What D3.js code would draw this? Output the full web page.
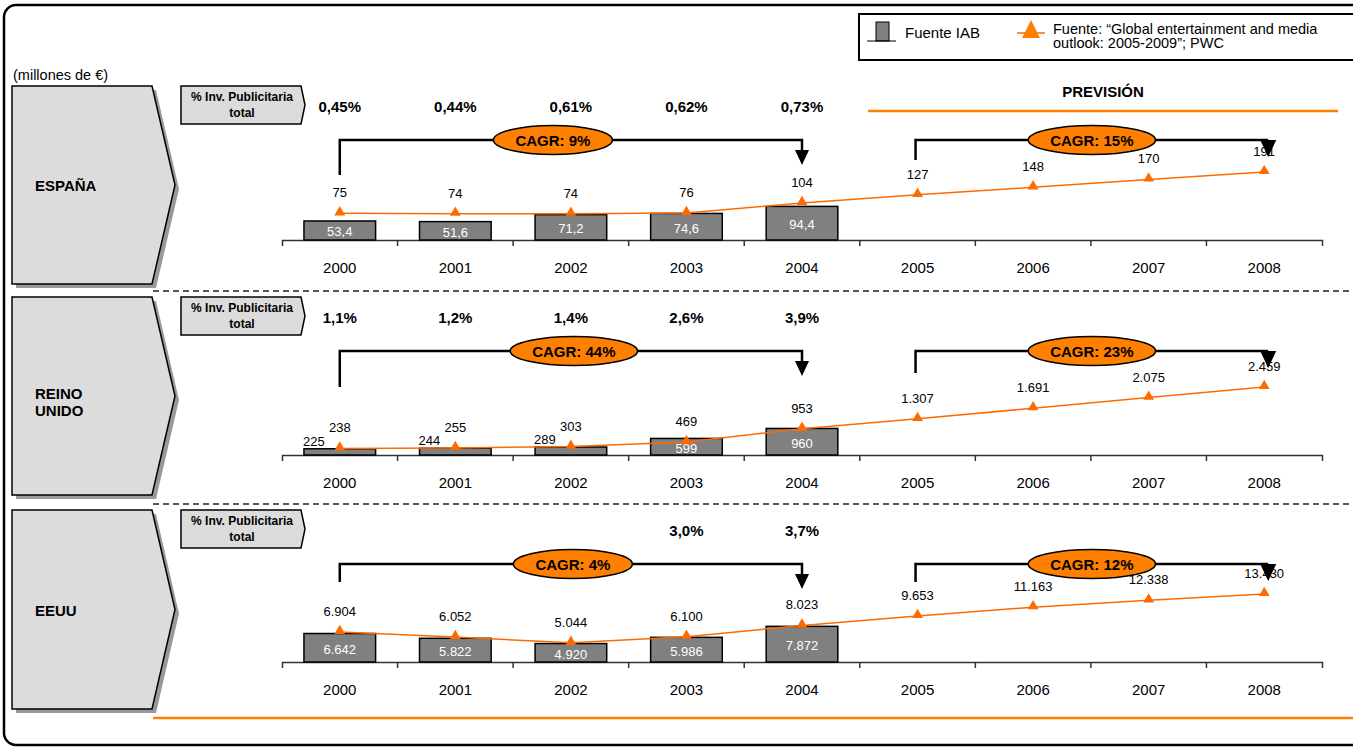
<!DOCTYPE html>
<html>
<head>
<meta charset="utf-8">
<script src="https://cdn.jsdelivr.net/npm/d3@7"></script>
<style>
  body { margin: 0; background: #fff; }
  svg { font-family: "Liberation Sans", Arial, sans-serif; }
</style>
</head>
<body>
<div id="chart"></div>
<script>
// datos
const years = ['2000', '2001', '2002', '2003', '2004', '2005', '2006', '2007', '2008'];

const iabEspana = [53.4, 51.6, 71.2, 74.6, 94.4];
const pwcEspana = [75, 74, 74, 76, 104, 127, 148, 170, 191];
const pctEspana = ['0,45%', '0,44%', '0,61%', '0,62%', '0,73%'];
const cagrEspana = ['CAGR: 9%', 'CAGR: 15%'];

const iabReino = [225, 244, 289, 599, 960];
const pwcReino = [238, 255, 303, 469, 953, 1307, 1691, 2075, 2459];
const pctReino = ['1,1%', '1,2%', '1,4%', '2,6%', '3,9%'];
const cagrReino = ['CAGR: 44%', 'CAGR: 23%'];

const iabEeuu = [6642, 5822, 4920, 5986, 7872];
const pwcEeuu = [6904, 6052, 5044, 6100, 8023, 9653, 11163, 12338, 13430];
const pctEeuu = [null, null, null, '3,0%', '3,7%'];
const cagrEeuu = ['CAGR: 4%', 'CAGR: 12%'];

const legendIab = 'Fuente IAB';
const legendPwc = ['Fuente: \u201cGlobal entertainment and media', 'outlook: 2005-2009\u201d; PWC'];

const es = d3.formatLocale({ decimal: ',', thousands: '.', grouping: [3], currency: ['', '\u20ac'] });

const naranja = '#ff7f00';
const linea = '#ff6a00';

// paneles: datos + posicion
const panels = [
  { name: ['ESPAÑA'], iab: iabEspana, pwc: pwcEspana, pct: pctEspana, cagr: cagrEspana,
    top: 86, bottom: 284, base: 240, lo: 0, fmtIab: es.format(',.1f'), stub1: 89, stub2: 74, ell1: -18 },
  { name: ['REINO', 'UNIDO'], iab: iabReino, pwc: pwcReino, pct: pctReino, cagr: cagrReino,
    top: 297, bottom: 495, base: 455, lo: 0, fmtIab: es.format(',d'), stub1: 90, stub2: 76, ell1: 3 },
  { name: ['EEUU'], iab: iabEeuu, pwc: pwcEeuu, pct: pctEeuu, cagr: cagrEeuu,
    top: 510, bottom: 709, base: 662, lo: 1750, fmtIab: es.format(',d'), stub1: 72, stub2: 72, ell1: 2 }
];

const W = 1353, H = 748;
const svg = d3.select('#chart').append('svg')
  .attr('width', W).attr('height', H);

// marco exterior
svg.append('rect')
  .attr('x', 4).attr('y', 5).attr('width', W + 20).attr('height', 740)
  .attr('rx', 12)
  .attr('fill', 'none').attr('stroke', '#000').attr('stroke-width', 2.5);

// leyenda
const leg = svg.append('g');
leg.append('rect')
  .attr('x', 859).attr('y', 14).attr('width', 520).attr('height', 46)
  .attr('fill', '#fff').attr('stroke', '#000').attr('stroke-width', 2);
leg.append('rect')
  .attr('x', 876).attr('y', 22).attr('width', 13).attr('height', 19)
  .attr('fill', '#808080').attr('stroke', '#000');
leg.append('line')
  .attr('x1', 867).attr('x2', 896).attr('y1', 41).attr('y2', 41)
  .attr('stroke', '#000');
leg.append('text')
  .attr('x', 905).attr('y', 38).attr('font-size', 15).text(legendIab);
leg.append('line')
  .attr('x1', 1017).attr('x2', 1045).attr('y1', 33).attr('y2', 33)
  .attr('stroke', linea).attr('stroke-width', 1.5);
leg.append('path')
  .attr('d', 'M1031,20L1040,38L1022,38Z')
  .attr('fill', naranja);
leg.selectAll('text.pwc')
  .data(legendPwc)
  .enter().append('text')
  .attr('class', 'pwc')
  .attr('x', 1053)
  .attr('y', (d, i) => 34 + i * 14)
  .attr('font-size', 14.5)
  .text(d => d);

svg.append('text')
  .attr('x', 13).attr('y', 80).attr('font-size', 14.5)
  .text('(millones de \u20ac)');

// PREVISION
svg.append('text')
  .attr('x', 1103).attr('y', 97).attr('text-anchor', 'middle')
  .attr('font-size', 15).attr('font-weight', 'bold')
  .text('PREVISIÓN');
svg.append('line')
  .attr('x1', 868).attr('x2', 1338).attr('y1', 111).attr('y2', 111)
  .attr('stroke', naranja).attr('stroke-width', 2.5);

// separadores
[291, 504].forEach(y => {
  svg.append('line')
    .attr('x1', 153).attr('x2', W).attr('y1', y).attr('y2', y)
    .attr('stroke', '#222').attr('stroke-width', 1.5)
    .attr('stroke-dasharray', '6,4');
});
svg.append('line')
  .attr('x1', 153).attr('x2', W).attr('y1', 718).attr('y2', 718)
  .attr('stroke', naranja).attr('stroke-width', 2.5);

const x = d3.scaleBand().domain(years).range([282, 1322]).padding(0);
const barW = x.bandwidth() * 0.62;
const cx = d => x(d) + x.bandwidth() / 2;

const fmtPwc = es.format(',d');

panels.forEach(p => {
  const g = svg.append('g');
  const y = d3.scaleLinear()
    .domain([p.lo, d3.max(p.pwc)])
    .range([p.base, p.base - 68]);

  // chevron grande con sombra
  const mid = (p.top + p.bottom) / 2;
  const chev = `M12,${p.top}L152,${p.top}L175,${mid}L152,${p.bottom}L12,${p.bottom}Z`;
  g.append('path').attr('d', chev)
    .attr('transform', 'translate(4,4)')
    .attr('fill', '#999');
  g.append('path').attr('d', chev)
    .attr('fill', '#dcdcdc').attr('stroke', '#000').attr('stroke-width', 1.5);
  g.selectAll('text.pais')
    .data(p.name)
    .enter().append('text')
    .attr('class', 'pais')
    .attr('x', 35)
    .attr('y', (d, i) => p.name.length > 1 ? mid + 3 + i * 17 : mid + 6)
    .attr('font-size', 15).attr('font-weight', 'bold')
    .text(d => d);

  // caja % inversion
  const t = p.top;
  g.append('path')
    .attr('d', `M181,${t}L301,${t}L305,${t + 19}L301,${t + 38}L181,${t + 38}Z`)
    .attr('fill', '#dcdcdc').attr('stroke', '#000').attr('stroke-width', 1.5);
  g.append('text')
    .attr('x', 242).attr('y', t + 15).attr('text-anchor', 'middle')
    .attr('font-size', 12).attr('font-weight', 'bold')
    .text('% Inv. Publicitaria');
  g.append('text')
    .attr('x', 242).attr('y', t + 31).attr('text-anchor', 'middle')
    .attr('font-size', 12).attr('font-weight', 'bold')
    .text('total');

  // porcentajes
  g.selectAll('text.pct')
    .data(p.pct.map((v, i) => ({ v, yr: years[i] })).filter(d => d.v))
    .enter().append('text')
    .attr('class', 'pct')
    .attr('x', d => cx(d.yr)).attr('y', t + 26)
    .attr('text-anchor', 'middle')
    .attr('font-size', 15).attr('font-weight', 'bold')
    .text(d => d.v);

  // corchetes CAGR
  const by = t + 54;
  const x0 = cx(years[0]), x1 = cx(years[4]);
  const x2 = cx(years[5]) - 2, x3 = cx(years[8]) + 4;
  g.append('path')
    .attr('d', `M${x0},${t + p.stub1}V${by}H${x1}V${t + 64}`)
    .attr('fill', 'none').attr('stroke', '#000').attr('stroke-width', 2.5);
  g.append('path')
    .attr('d', `M${x1 - 7},${t + 64}L${x1 + 7},${t + 64}L${x1},${t + 79}Z`)
    .attr('fill', '#000');
  g.append('path')
    .attr('d', `M${x2},${t + p.stub2}V${by}H${x3}`)
    .attr('fill', 'none').attr('stroke', '#000').attr('stroke-width', 2.5);
  g.append('path')
    .attr('d', `M${x3 - 8},${by}L${x3 + 8},${by}L${x3},${t + 71}Z`)
    .attr('fill', '#000');

  [[(x0 + x1) / 2 + p.ell1, p.cagr[0]], [(x2 + x3) / 2, p.cagr[1]]].forEach(([ex, label]) => {
    const el = g.append('ellipse')
      .attr('cx', ex).attr('cy', by)
      .attr('ry', 14.5)
      .attr('fill', naranja).attr('stroke', '#000').attr('stroke-width', 1.5);
    const tx = g.append('text')
      .attr('x', ex).attr('y', by + 5.5)
      .attr('text-anchor', 'middle')
      .attr('font-size', 15).attr('font-weight', 'bold')
      .text(label);
    el.attr('rx', tx.node().getComputedTextLength() / 2 + 22);
  });

  // eje
  const axis = g.append('g')
    .attr('transform', `translate(0,${p.base})`)
    .call(d3.axisBottom(x).tickSize(0).tickSizeOuter(6).tickPadding(22));
  axis.select('.domain').attr('stroke', '#333').attr('stroke-width', 1.5);
  axis.selectAll('text')
    .attr('font-size', 15).attr('font-family', 'Liberation Sans, Arial, sans-serif')
    .attr('fill', '#000');
  axis.selectAll('line.sep')
    .data(years.slice(1))
    .enter().append('line')
    .attr('class', 'sep')
    .attr('x1', d => x(d)).attr('x2', d => x(d))
    .attr('y1', 0).attr('y2', 6)
    .attr('stroke', '#333').attr('stroke-width', 1.5);

  // barras IAB
  const bars = p.iab.map((v, i) => ({ v, yr: years[i] }));
  g.selectAll('rect.bar')
    .data(bars)
    .enter().append('rect')
    .attr('class', 'bar')
    .attr('x', d => cx(d.yr) - barW / 2)
    .attr('y', d => y(d.v))
    .attr('width', barW)
    .attr('height', d => p.base - y(d.v))
    .attr('fill', '#808080').attr('stroke', '#000').attr('stroke-width', 1.5);
  g.selectAll('text.bar')
    .data(bars)
    .enter().append('text')
    .attr('class', 'bar')
    .attr('font-size', 13)
    .attr('text-anchor', 'middle')
    .each(function(d) {
      const h = p.base - y(d.v);
      const s = d3.select(this);
      if (h < 12) {
        s.attr('x', cx(d.yr) - 26).attr('y', y(d.v) - 3).attr('fill', '#000');
      } else {
        s.attr('x', cx(d.yr)).attr('y', p.base - h / 2 + 6).attr('fill', '#fff');
      }
    })
    .text(d => p.fmtIab(d.v));

  // linea PWC
  const pts = p.pwc.map((v, i) => ({ v, yr: years[i] }));
  g.append('path')
    .datum(pts)
    .attr('d', d3.line().x(d => cx(d.yr)).y(d => y(d.v)))
    .attr('fill', 'none').attr('stroke', linea).attr('stroke-width', 1.5);
  g.selectAll('path.tri')
    .data(pts)
    .enter().append('path')
    .attr('class', 'tri')
    .attr('d', d3.symbol(d3.symbolTriangle, 50))
    .attr('transform', d => `translate(${cx(d.yr)},${y(d.v) - 1})`)
    .attr('fill', linea);
  g.selectAll('text.pwc')
    .data(pts)
    .enter().append('text')
    .attr('class', 'pwc')
    .attr('x', d => cx(d.yr)).attr('y', d => y(d.v) - 16)
    .attr('text-anchor', 'middle')
    .attr('font-size', 13)
    .text(d => fmtPwc(d.v));
});
</script>
</body>
</html>
